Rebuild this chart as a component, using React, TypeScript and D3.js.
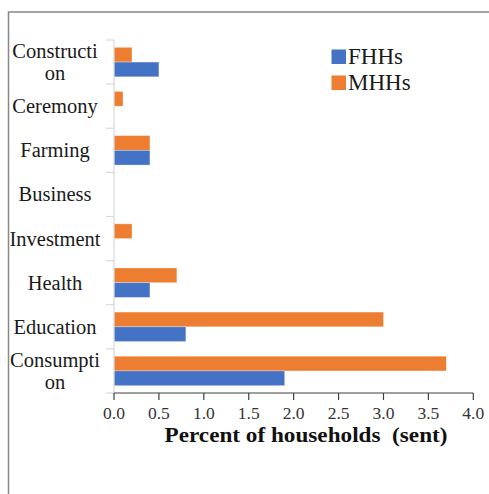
import React from "react";
import * as d3 from "d3";

const categories = ["Construction", "Ceremony", "Farming", "Business", "Investment", "Health", "Education", "Consumption"];
const categoryLines = [["Constructi", "on"], ["Ceremony"], ["Farming"], ["Business"], ["Investment"], ["Health"], ["Education"], ["Consumpti", "on"]];
const seriesNames = ["MHHs", "FHHs"];
const mhhValues = [0.2, 0.1, 0.4, 0, 0.2, 0.7, 3.0, 3.7];
const fhhValues = [0.5, 0, 0.4, 0, 0, 0.4, 0.8, 1.9];
const xTicks = [0, 0.5, 1, 1.5, 2, 2.5, 3, 3.5, 4];
const legendNames = ["FHHs", "MHHs"];
const colors: Record<string, string> = { FHHs: "#4472C4", MHHs: "#ED7D31" };

export default function App() {
  const W = 489, H = 494;
  const x0 = 114, x1 = 473.3, yTop = 40, yBot = 393;
  const x = d3.scaleLinear().domain([0, 4]).range([x0, x1]);
  const y = d3.scaleBand().domain(categories).range([yTop, yBot]).padding(0);
  const bw = y.bandwidth();
  const sub = d3.scaleBand().domain(seriesNames).range([bw * 0.166, bw * 0.834]).padding(0);
  const values: Record<string, number[]> = { MHHs: mhhValues, FHHs: fhhValues };
  const serif = "'Liberation Serif', 'Times New Roman', serif";
  const tickEdges = [...categories.map((c) => y(c) as number), yBot];

  return (
    <svg width={W} height={H} style={{ position: "absolute", left: 0, top: 0 }} fontFamily={serif}>
      <rect x={0} y={0} width={W} height={H} fill="#fff" />
      {/* frame */}
      <path d={`M8.5,${H} L8.5,12 L${W},12`} fill="none" stroke="#888" strokeWidth={1.5} />
      {/* bars */}
      {categories.map((c, i) =>
        seriesNames.map((s) => {
          const v = values[s][i];
          if (!v) return null;
          return (
            <rect
              key={c + s}
              x={x(0)}
              y={(y(c) as number) + (sub(s) as number)}
              width={x(v) - x(0)}
              height={sub.bandwidth()}
              fill={colors[s]}
              stroke="#ffffff"
              strokeOpacity={0.4}
              strokeWidth={0.8}
            />
          );
        })
      )}
      {/* y axis */}
      <line x1={x0} x2={x0} y1={yTop} y2={yBot} stroke="#d9d9d9" strokeWidth={1.2} />
      {tickEdges.map((t, i) => (
        <line key={i} x1={x0 - 8} x2={x0} y1={t} y2={t} stroke="#d9d9d9" strokeWidth={1.2} />
      ))}
      {categories.map((c, i) => {
        const lines = categoryLines[i];
        const cy = (y(c) as number) + bw / 2 + 7;
        const start = cy - ((lines.length - 1) * 22.7) / 2;
        return (
          <text key={c} x={55} textAnchor="middle" fontSize={20.5} fill="#1a1a1a">
            {lines.map((l, j) => (
              <tspan key={j} x={55} y={start + j * 22.7}>
                {l}
              </tspan>
            ))}
          </text>
        );
      })}
      {/* x axis */}
      <line x1={x0} x2={x1} y1={yBot} y2={yBot} stroke="#404040" strokeWidth={1.2} />
      {xTicks.map((t) => (
        <g key={t}>
          <line x1={x(t)} x2={x(t)} y1={yBot} y2={yBot + 7} stroke="#404040" strokeWidth={1.2} />
          <text x={x(t)} y={419} textAnchor="middle" fontSize={17.5} fill="#333">
            {t.toFixed(1)}
          </text>
        </g>
      ))}
      <text x={306} y={442} textAnchor="middle" fontSize={20} fontWeight="bold" fill="#111" style={{ whiteSpace: "pre" }} textLength={283} lengthAdjust="spacingAndGlyphs">
        {"Percent of households  (sent)"}
      </text>
      {/* legend */}
      {legendNames.map((n, i) => (
        <g key={n}>
          <rect x={331.5} y={49.5 + i * 26} width={14.5} height={14.5} fill={colors[n]} />
          <text x={348} y={64 + i * 26} fontSize={23} fill="#1a1a1a">
            {n}
          </text>
        </g>
      ))}
    </svg>
  );
}
